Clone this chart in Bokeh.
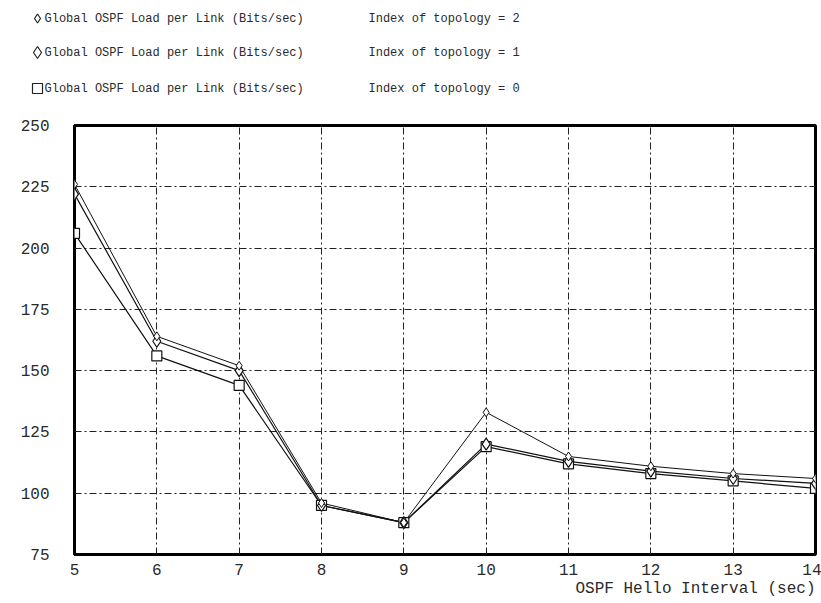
from bokeh.plotting import figure
from bokeh.models import Range1d, FixedTicker, Title, ColumnDataSource
from bokeh.core.properties import value
from bokeh.embed import file_html
from bokeh.resources import INLINE

# ---- data ----
hello_interval = [5, 6, 7, 8, 9, 10, 11, 12, 13, 14]
load_topo2 = [226, 164, 152, 96, 88, 133, 115, 111, 108, 106]
load_topo1 = [222, 162, 150, 95, 88, 120, 113, 109, 106, 104]
load_topo0 = [206, 156, 144, 95, 88, 119, 112, 108, 105, 102]
x_ticks = [5, 6, 7, 8, 9, 10, 11, 12, 13, 14]
y_ticks = [75, 100, 125, 150, 175, 200, 225, 250]
series_label = "Global OSPF Load per Link (Bits/sec)"
index_labels = ["Index of topology = 2", "Index of topology = 1", "Index of topology = 0"]
x_title = "OSPF Hello Interval (sec)"

FONT = "Liberation Mono"
TXT = "#2a2a2a"

# ---- legend strip (own figure in pixel space) ----
leg = figure(frame_width=821, frame_height=110, x_range=Range1d(0, 821), y_range=Range1d(110, 0),
             output_backend="svg", toolbar_location=None,
             min_border=0, min_border_left=0, min_border_right=0,
             min_border_top=0, min_border_bottom=0)
leg.axis.visible = False
leg.grid.visible = False
leg.outline_line_color = None

row_y = [18, 52, 88]
markers = ["diamond", "diamond", "square"]
msizes = [9, 12, 10]
for ry, mk, ms, il in zip(row_y, markers, msizes, index_labels):
    leg.scatter([37], [ry], marker=mk, size=ms, fill_color="white",
                line_color="#222222", line_width=1.2)
    leg.text([44], [ry], text=[series_label], text_font=value(FONT),
             text_font_size="12px", text_baseline="middle", text_align="left",
             text_color=TXT)
    leg.text([368], [ry], text=[il], text_font=value(FONT),
             text_font_size="12px", text_baseline="middle", text_align="left",
             text_color=TXT)

# ---- main plot ----
p = figure(frame_width=741, frame_height=429,
           x_range=Range1d(5, 14), y_range=Range1d(75, 250),
           output_backend="svg", toolbar_location=None,
           min_border_left=74, min_border_right=6,
           min_border_top=15, min_border_bottom=10)

p.outline_line_color = "black"
p.outline_line_width = 3

for ax in (p.xaxis, p.yaxis):
    ax.axis_line_color = None
    ax.major_tick_line_color = None
    ax.minor_tick_line_color = None
    ax.major_label_text_font = FONT
    ax.major_label_text_font_size = "16px"
    ax.major_label_text_color = TXT

p.xaxis.ticker = FixedTicker(ticks=x_ticks)
p.yaxis.ticker = FixedTicker(ticks=y_ticks)
p.xaxis.major_label_standoff = 3
p.yaxis.major_label_standoff = 19

for g in (p.xgrid, p.ygrid):
    g.grid_line_color = "#222222"
    g.grid_line_width = 1
    g.grid_line_dash = "7 3 2 3"

src = ColumnDataSource(dict(x=hello_interval, t2=load_topo2, t1=load_topo1, t0=load_topo0))

p.line("x", "t0", source=src, line_color="#111111", line_width=1.2)
p.line("x", "t1", source=src, line_color="#111111", line_width=1.2)
p.line("x", "t2", source=src, line_color="#111111", line_width=1)

p.scatter("x", "t0", source=src, marker="square", size=10, fill_color="white",
          line_color="#111111", line_width=1.2)
p.scatter("x", "t1", source=src, marker="diamond", size=12, fill_color="white",
          line_color="#111111", line_width=1.2)
p.scatter("x", "t2", source=src, marker="diamond", size=9, fill_color="white",
          line_color="#111111", line_width=1)

t = Title(text=x_title, align="right", text_font=FONT, text_font_size="16px",
          text_font_style="normal", text_color=TXT, standoff=0)
p.add_layout(t, "below")

open("out.html", "w").write(file_html([leg, p], INLINE))
